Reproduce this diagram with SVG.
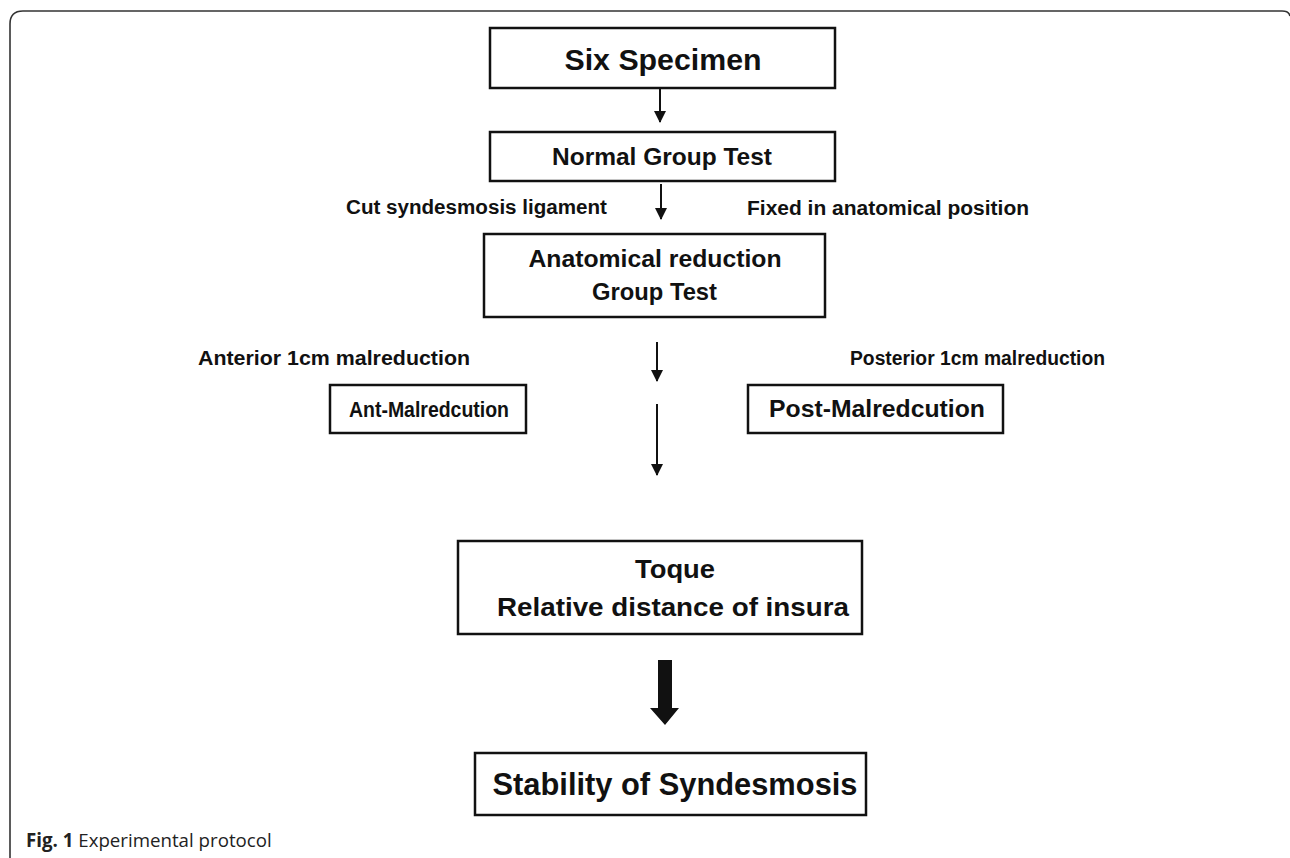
<svg xmlns="http://www.w3.org/2000/svg" width="1290" height="858" viewBox="0 0 1290 858">
<defs>
<style>
.box{fill:#fff;stroke:#111;stroke-width:2.5}
.t{font-family:"Liberation Sans",Arial,sans-serif;font-weight:bold;fill:#111;text-anchor:middle}
.lbl{font-family:"Liberation Sans",Arial,sans-serif;font-weight:bold;fill:#111;font-size:19.5px}
.ln{stroke:#111;stroke-width:2;fill:none}
</style>
<marker id="ah" markerWidth="12" markerHeight="12" viewBox="0 0 12 12" refX="11" refY="6" orient="auto" markerUnits="userSpaceOnUse">
<path d="M0,0 L12,6 L0,12 Z" fill="#111"/>
</marker>
</defs>
<rect width="1290" height="858" fill="#fff"/>
<path d="M10,858 V24 Q10,11 23,11 H1282 Q1289,11 1290,16" fill="none" stroke="#333" stroke-width="1.6"/>

<g id="n-six">
<rect class="box" x="490" y="28" width="345" height="60"/>
<text class="t" x="663" y="70" font-size="30" textLength="197" lengthAdjust="spacingAndGlyphs">Six Specimen</text>
</g>
<g id="n-normal">
<rect class="box" x="490" y="132" width="345" height="49"/>
<text class="t" x="662" y="165" font-size="24" textLength="220" lengthAdjust="spacingAndGlyphs">Normal Group Test</text>
</g>
<g id="n-anat">
<rect class="box" x="484" y="234" width="341" height="83"/>
<text class="t" x="655" y="267" font-size="24" textLength="253" lengthAdjust="spacingAndGlyphs">Anatomical reduction</text>
<text class="t" x="654.5" y="300" font-size="24" textLength="125" lengthAdjust="spacingAndGlyphs">Group Test</text>
</g>
<g id="n-ant">
<rect class="box" x="330" y="385" width="196" height="48"/>
<text class="t" x="429" y="417" font-size="22" textLength="160" lengthAdjust="spacingAndGlyphs">Ant-Malredcution</text>
</g>
<g id="n-post">
<rect class="box" x="748" y="385" width="255" height="48"/>
<text class="t" x="877" y="417" font-size="23" textLength="216" lengthAdjust="spacingAndGlyphs">Post-Malredcution</text>
</g>
<g id="n-toque">
<rect class="box" x="458" y="541" width="404" height="93"/>
<text class="t" x="675" y="578" font-size="26" textLength="80" lengthAdjust="spacingAndGlyphs">Toque</text>
<text class="t" x="673" y="616" font-size="26" textLength="352" lengthAdjust="spacingAndGlyphs">Relative distance of insura</text>
</g>
<g id="n-stab">
<rect class="box" x="475" y="753" width="391" height="62"/>
<text class="t" x="675" y="795" font-size="31" textLength="365" lengthAdjust="spacingAndGlyphs">Stability of Syndesmosis</text>
</g>

<g id="labels">
<text class="lbl" x="346" y="214" textLength="261" lengthAdjust="spacingAndGlyphs">Cut syndesmosis ligament</text>
<text class="lbl" x="747" y="215" textLength="282" lengthAdjust="spacingAndGlyphs">Fixed in anatomical position</text>
<text class="lbl" x="198" y="365" textLength="272" lengthAdjust="spacingAndGlyphs">Anterior 1cm malreduction</text>
<text class="lbl" x="850" y="365" textLength="255" lengthAdjust="spacingAndGlyphs">Posterior 1cm malreduction</text>
</g>

<g id="connectors">
<line class="ln" x1="660" y1="89" x2="660" y2="122" marker-end="url(#ah)"/>
<line class="ln" x1="661" y1="184" x2="661" y2="219" marker-end="url(#ah)"/>
<line class="ln" x1="657" y1="342" x2="657" y2="381" marker-end="url(#ah)"/>
<line class="ln" x1="657" y1="404" x2="657" y2="475" marker-end="url(#ah)"/>
<path d="M658,660 H672 V708 H679 L665,725 L650,708 H658 Z" fill="#111"/>
</g>

<g id="caption">
<text x="26" y="847" font-family="'Open Sans','Liberation Sans',sans-serif" font-size="18.7" fill="#222"><tspan font-weight="bold">Fig. 1</tspan> Experimental protocol</text>
</g>
</svg>
